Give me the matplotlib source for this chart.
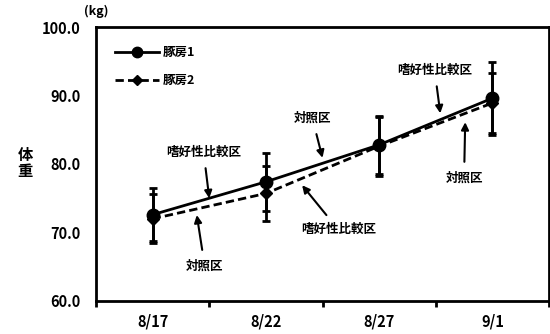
import matplotlib
matplotlib.use("Agg")
import matplotlib.pyplot as plt
from matplotlib.lines import Line2D
import numpy as np

plt.rcParams['font.family'] = ['Noto Sans CJK JP', 'DejaVu Sans']

dates = ["8/17", "8/22", "8/27", "9/1"]
pen1 = [72.6, 77.4, 82.8, 89.6]
pen1_err = [3.9, 4.2, 4.2, 5.3]
pen2 = [72.0, 75.7, 82.6, 88.9]
pen2_err = [3.6, 4.0, 4.3, 4.4]
yticks = [60, 70, 80, 90, 100]

W, H = 550, 334
fig = plt.figure(figsize=(W / 100, H / 100), dpi=100)
ax = fig.add_axes([96 / W, 1 - 301 / H, 453 / W, 274 / H])

x = np.arange(len(dates))
ax.errorbar(x, pen1, yerr=pen1_err, fmt='-o', color='black', lw=2.0,
            ms=9, elinewidth=2.0, capsize=3, capthick=2.0, zorder=3)
ax.errorbar(x, pen2, yerr=pen2_err, fmt='--D', color='black', lw=2.0,
            ms=6.5, elinewidth=2.0, capsize=3, capthick=2.0, dashes=(3, 1.5),
            zorder=3)

ax.set_xlim(-0.5, len(dates) - 0.5)
ax.set_ylim(60, 100)
ax.set_yticks(yticks)
ax.set_yticklabels([f"{v:.1f}" for v in yticks], fontsize=10.5, fontweight='bold')
ax.tick_params(axis='y', length=0, pad=11)
ax.set_xticks(x)
ax.set_xticklabels(dates, fontsize=10.5, fontweight='bold')
ax.tick_params(axis='x', which='major', length=0, pad=9)
ax.set_xticks(np.arange(-0.5, len(dates)), minor=True)
ax.tick_params(axis='x', which='minor', length=4, width=2, direction='out')
for s in ax.spines.values():
    s.set_linewidth(2)

fig.text(96 / W, 1 - 11 / H, "(kg)", fontsize=9, fontweight='bold',
         ha='center', va='center')
fig.text(25 / W, 1 - 163 / H, "体\n重", fontsize=11, fontweight='bold',
         ha='center', va='center', linespacing=1.0)

handles = [
    Line2D([], [], color='black', lw=2.0, marker='o', ms=7.5),
    Line2D([], [], color='black', lw=2.0, ls=(0, (3, 1.5)), marker='D', ms=5.5),
]
ax.legend(handles, ['豚房1', '豚房2'], loc='upper left',
          bbox_to_anchor=(110 / W, 1 - 41 / H), bbox_transform=fig.transFigure,
          frameon=False, prop={'size': 9, 'weight': 'bold'}, handlelength=3.5,
          handletextpad=0.35, labelspacing=1.2, borderaxespad=0, borderpad=0.4)

ann = dict(fontsize=9, fontweight='bold', ha='center', va='center',
           arrowprops=dict(arrowstyle='-|>', color='black', lw=1.5,
                           mutation_scale=11, shrinkA=5, shrinkB=0))
ax.annotate("嗜好性比較区", xy=(0.50, 75.0), xytext=(0.45, 81.75), **ann)
ax.annotate("対照区", xy=(0.39, 72.55), xytext=(0.46, 65.1), **ann)
ax.annotate("対照区", xy=(1.50, 80.9), xytext=(1.41, 86.7), **ann)
ax.annotate("嗜好性比較区", xy=(1.32, 76.9), xytext=(1.64, 70.4), **ann)
ax.annotate("嗜好性比較区", xy=(2.54, 87.4), xytext=(2.49, 93.7), **ann)
ax.annotate("対照区", xy=(2.76, 86.1), xytext=(2.75, 77.95), **ann)

fig.savefig("out.png", dpi=100)
